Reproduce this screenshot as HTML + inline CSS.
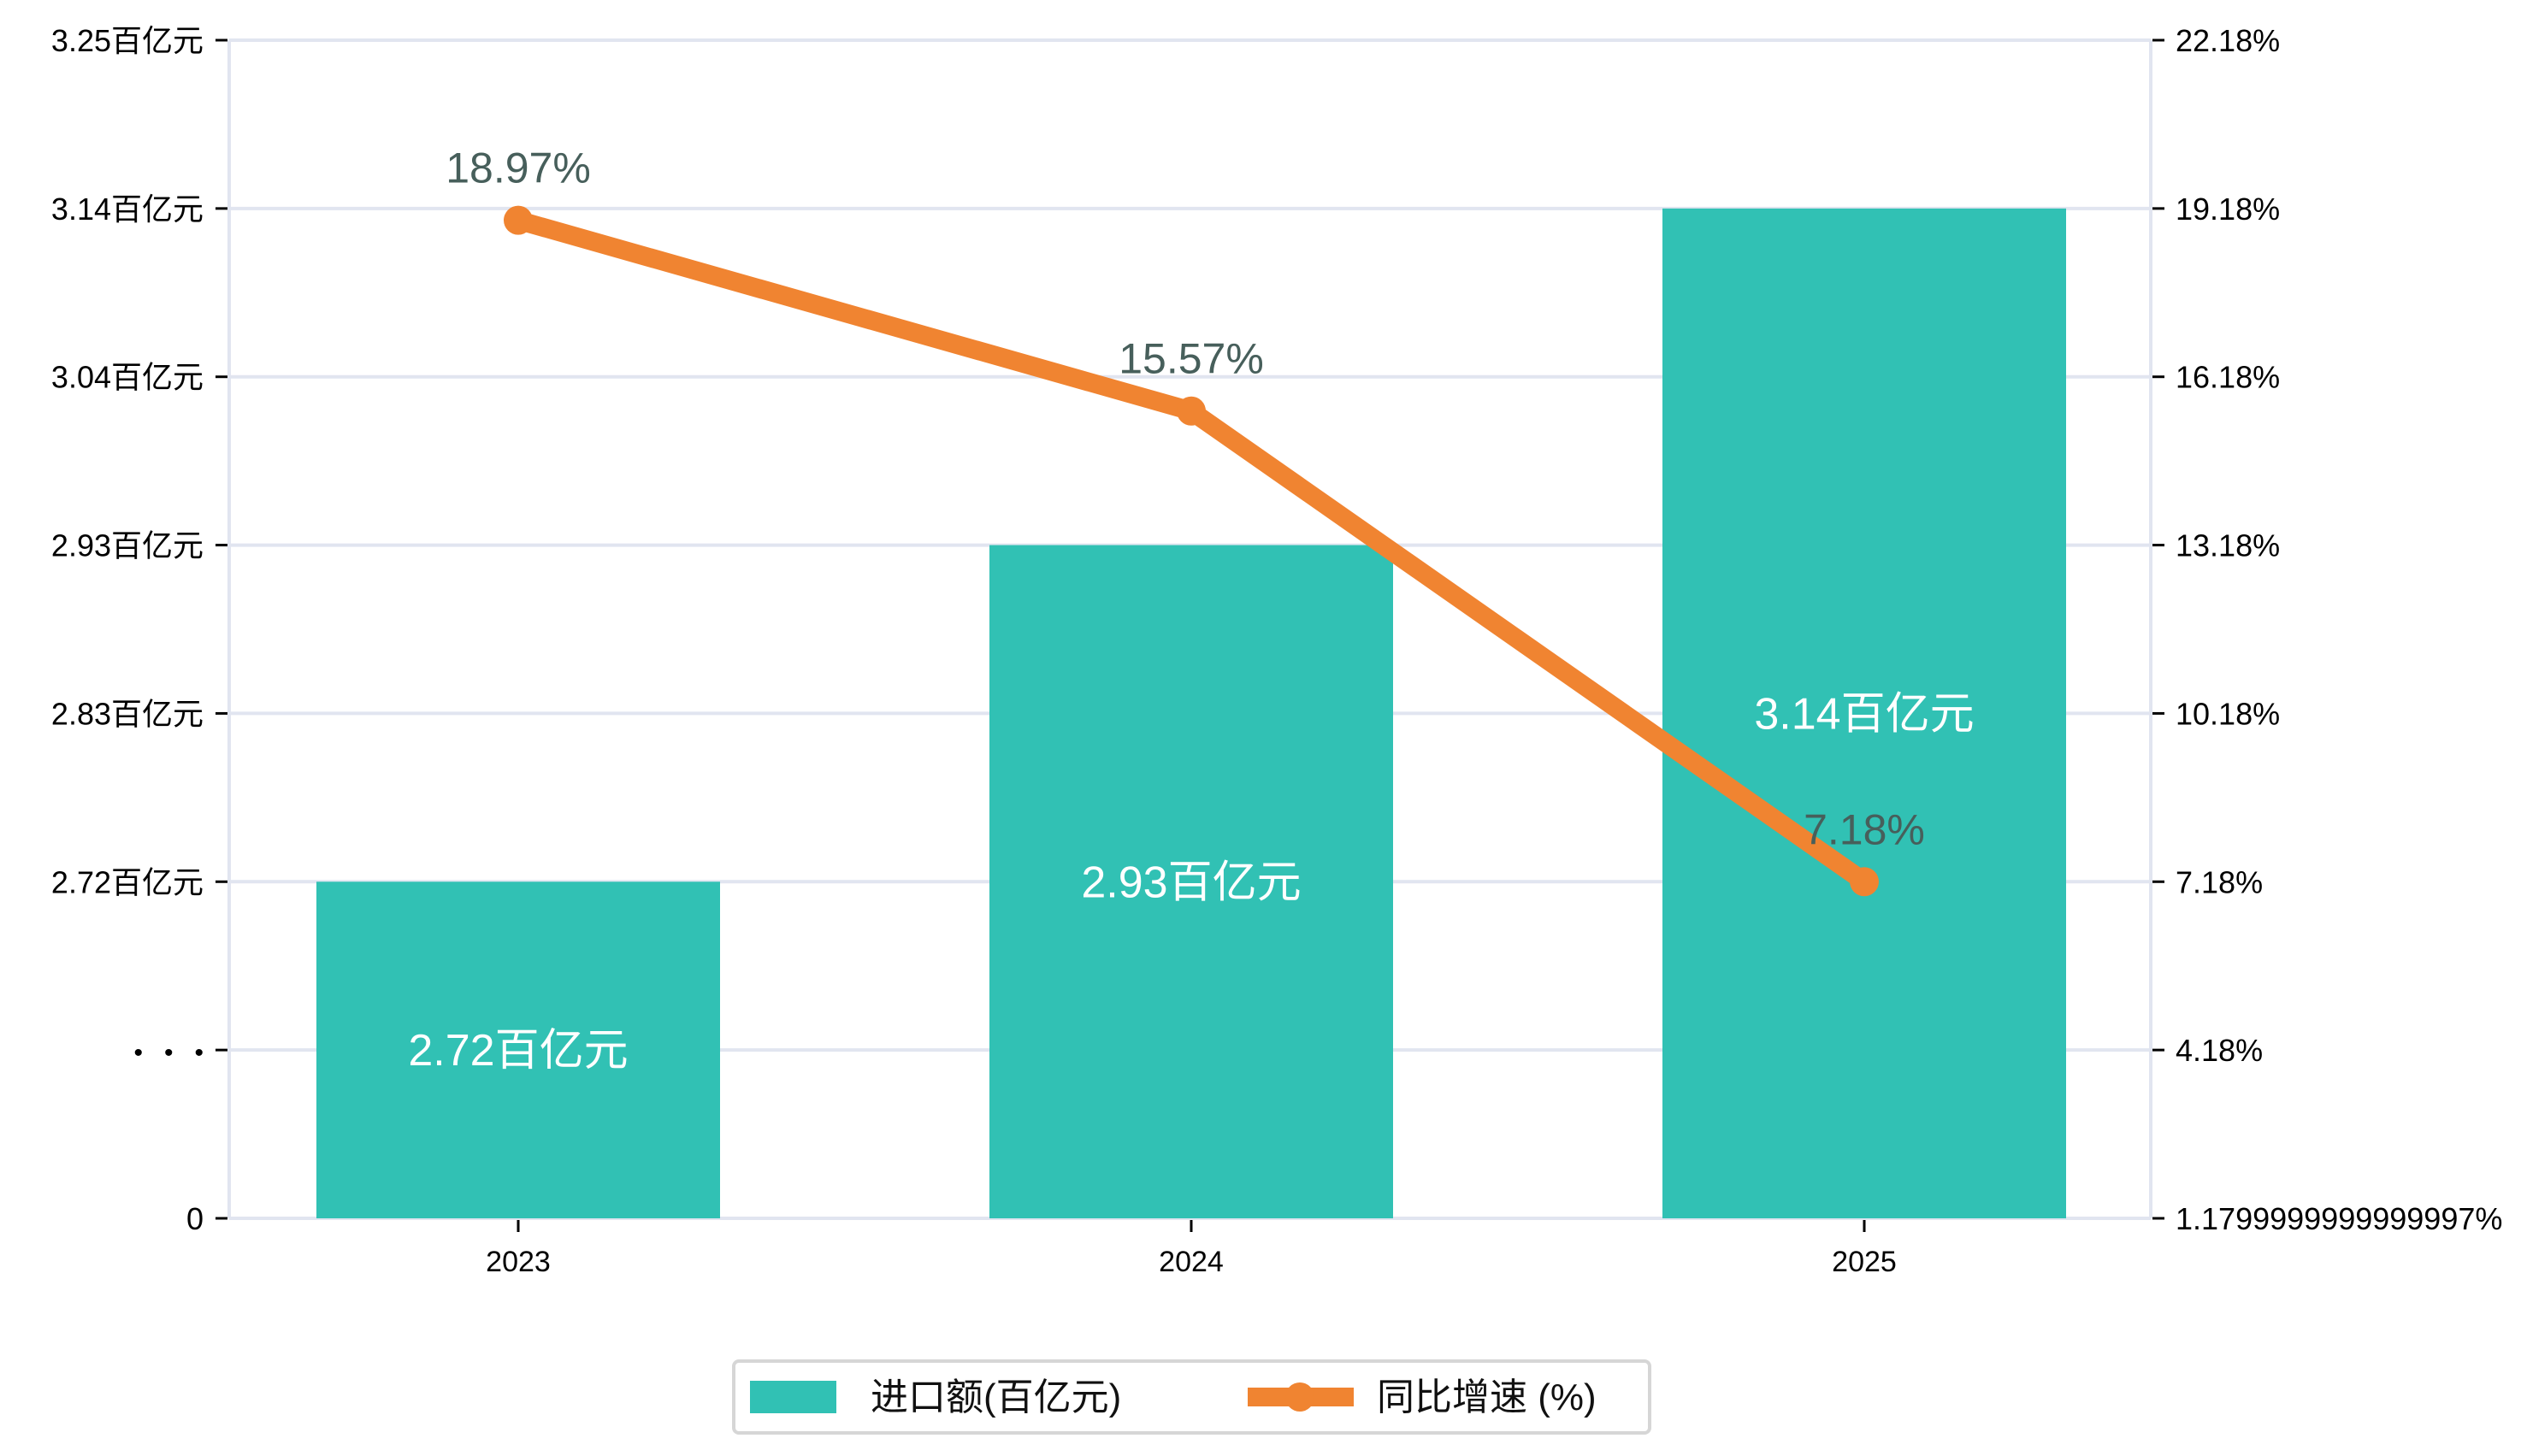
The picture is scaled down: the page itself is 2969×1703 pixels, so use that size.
<!DOCTYPE html>
<html><head><meta charset="utf-8"><style>
html,body{margin:0;padding:0;background:#fff;}
svg{display:block;font-family:"Liberation Sans","Noto Sans CJK SC",sans-serif;}
</style></head><body>
<svg id="chart" width="2969" height="1703" viewBox="0 0 2969 1703" xmlns="http://www.w3.org/2000/svg">
<g id="grid"></g>
<g id="bars"></g>
<g id="axes"></g>
<g id="line"></g>
<g id="legend">
  <rect x="858" y="1592" width="1071" height="84" rx="6" fill="#fff" stroke="#d6d6d6" stroke-width="4"/>
  <rect x="877" y="1615" width="101" height="38" fill="#31c1b4"/>
  <text x="1018" y="1649" font-size="44" fill="#111">进口额(百亿元)</text>
  <line x1="1459" y1="1634" x2="1583" y2="1634" stroke="#f08431" stroke-width="22"/>
  <circle cx="1520" cy="1634" r="17" fill="#f08431"/>
  <text x="1610" y="1649" font-size="44" fill="#111">同比增速 (%)</text>
</g>
</svg>
<script>
const categories = ["2023","2024","2025"];
const importValues = [2.72, 2.93, 3.14];
const growthValues = [18.97, 15.57, 7.18];
const leftTickLabels = ["3.25百亿元","3.14百亿元","3.04百亿元","2.93百亿元","2.83百亿元","2.72百亿元","•   •   •","0"];
const rightTickLabels = ["22.18%","19.18%","16.18%","13.18%","10.18%","7.18%","4.18%","1.1799999999999997%"];

const NS="http://www.w3.org/2000/svg";
const X0=268, X1=2515, Y0=47, Y1=1425, STEP=(Y1-Y0)/7;
const LTOP=3.245, LSTEP=0.105, RTOP=22.18, RSTEP=3;
function xPos(i){return 606+787*i;}
function yLeft(v){return Y0+(LTOP-v)/LSTEP*STEP;}
function yRight(v){return Y0+(RTOP-v)/RSTEP*STEP;}
function mk(tag,attrs,parent,txt){const e=document.createElementNS(NS,tag);for(const k in attrs)e.setAttribute(k,attrs[k]);if(txt!==undefined)e.textContent=txt;parent.appendChild(e);return e;}

const grid=document.getElementById('grid'), axes=document.getElementById('axes'), bars=document.getElementById('bars'), line=document.getElementById('line');
for(let i=0;i<8;i++){
  const y=Y0+i*STEP;
  const g=mk('line',{x1:X0,x2:X1,y1:y,y2:y,stroke:'#e1e5f0','stroke-width':4},grid);
  
  
  const t1=mk('line',{x1:252,x2:266,y1:y,y2:y,stroke:'#000','stroke-width':3},axes);
  
  
  const l=mk('text',{x:238,y:y+13,'font-size':i===6?30:36,'text-anchor':'end',fill:'#000',style:'white-space:pre'},axes,leftTickLabels[i]);
  
  
  const t2=mk('line',{x1:X1+2,x2:X1+16,y1:y,y2:y,stroke:'#000','stroke-width':3},axes);
  
  
  const r=mk('text',{x:2544,y:y+13,'font-size':36,fill:'#000'},axes,rightTickLabels[i]);
  
  
}
const la=mk('line',{x1:X0,x2:X0,y1:Y0,y2:Y1,stroke:'#e1e5f0','stroke-width':4},grid);


const ra=mk('line',{x1:X1,x2:X1,y1:Y0,y2:Y1,stroke:'#e1e5f0','stroke-width':4},grid);



categories.forEach((c,i)=>{
  const cx=xPos(i), top=yLeft(importValues[i]);
  const b=mk('rect',{x:cx-236,y:top,width:472,height:Y1-top,fill:'#31c1b4'},bars);
  
  
  const bl=mk('text',{x:cx,y:(top+Y1)/2+18,'font-size':52,'text-anchor':'middle',fill:'#fff'},bars,importValues[i].toFixed(2)+'百亿元');
  
  
  const xt=mk('line',{x1:cx,x2:cx,y1:Y1+2,y2:Y1+16,stroke:'#000','stroke-width':3},axes);
  
  
  const xl=mk('text',{x:cx,y:1487,'font-size':34,'text-anchor':'middle',fill:'#000'},axes,c);
  
  
});

const pts=growthValues.map((v,i)=>xPos(i)+','+yRight(v)).join(' ');
const pl=mk('polyline',{points:pts,fill:'none',stroke:'#f08431','stroke-width':22,'stroke-linejoin':'round'},line);


growthValues.forEach((v,i)=>{
  const cx=xPos(i), cy=yRight(v);
  const m=mk('circle',{cx:cx,cy:cy,r:17,fill:'#f08431'},line);
  
  
  const t=mk('text',{x:cx,y:cy-44,'font-size':50,'text-anchor':'middle',fill:'#475f5b'},line,v.toFixed(2)+'%');
  
  
});
</script>
</body></html>
